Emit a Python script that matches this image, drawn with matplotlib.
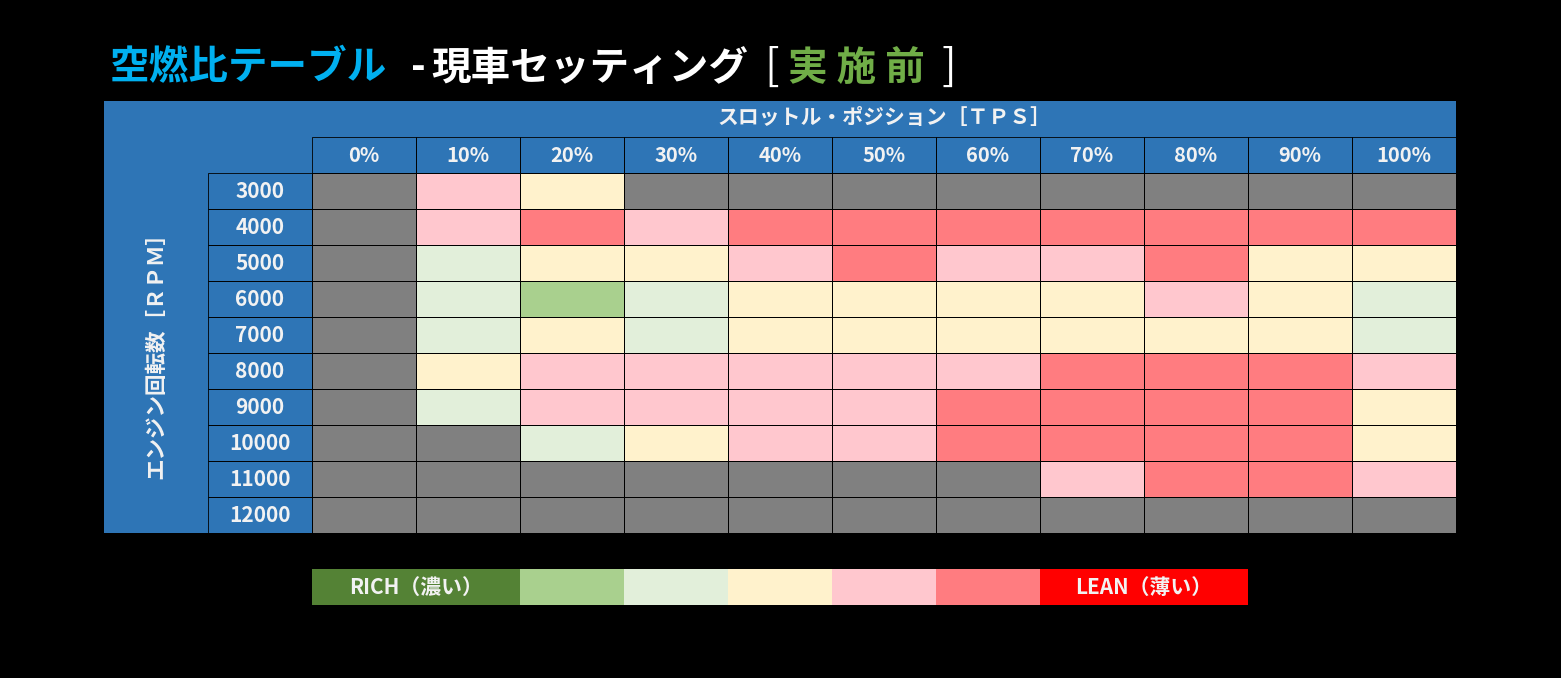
import matplotlib
matplotlib.use("Agg")
import matplotlib.pyplot as plt
from matplotlib.colors import ListedColormap, BoundaryNorm
from matplotlib.patches import Rectangle
import numpy as np

plt.rcParams['font.family'] = ['Noto Sans CJK JP', 'DejaVu Sans']

# ---- data ----
tps_labels = ["0%", "10%", "20%", "30%", "40%", "50%", "60%", "70%", "80%", "90%", "100%"]
rpm_labels = ["3000", "4000", "5000", "6000", "7000", "8000", "9000", "10000", "11000", "12000"]
# 0 = no data (gray), 1 = RICH (dark green) ... 7 = LEAN (red)
afr_level = [
    [0, 5, 4, 0, 0, 0, 0, 0, 0, 0, 0],  # 3000
    [0, 5, 6, 5, 6, 6, 6, 6, 6, 6, 6],  # 4000
    [0, 3, 4, 4, 5, 6, 5, 5, 6, 4, 4],  # 5000
    [0, 3, 2, 3, 4, 4, 4, 4, 5, 4, 3],  # 6000
    [0, 3, 4, 3, 4, 4, 4, 4, 4, 4, 3],  # 7000
    [0, 4, 5, 5, 5, 5, 5, 6, 6, 6, 5],  # 8000
    [0, 3, 5, 5, 5, 5, 6, 6, 6, 6, 4],  # 9000
    [0, 0, 3, 4, 5, 5, 6, 6, 6, 6, 4],  # 10000
    [0, 0, 0, 0, 0, 0, 0, 5, 6, 6, 5],  # 11000
    [0, 0, 0, 0, 0, 0, 0, 0, 0, 0, 0],  # 12000
]
level_colors = ["#808080", "#548235", "#A9D08E", "#E2EFDA", "#FFF2CC", "#FFC7CE", "#FF7C80", "#FF0000"]
legend_levels = [1, 2, 3, 4, 5, 6, 7]
legend_spans = [2, 1, 1, 1, 1, 1, 2]
legend_texts = ["RICH（濃い）", "", "", "", "", "", "LEAN（薄い）"]

title_parts = [("空燃比テーブル", "#00B0F0", "bold"), ("-", "#FFFFFF", "bold"),
               ("現車セッティング", "#FFFFFF", "bold"), ("[", "#FFFFFF", "normal"),
               ("実 施 前", "#70AD47", "bold"), ("]", "#FFFFFF", "normal")]
col_header = "スロットル・ポジション［ＴＰＳ］"
row_header = "エンジン回転数［ＲＰＭ］"

# ---- layout (pixels) ----
W, H = 1561, 678
cw, ch = 104, 36
x0, y0 = 312, 173          # data grid origin
panel_x, panel_y = 104, 101
txt = "#F2F2F2"

fig = plt.figure(figsize=(W / 100, H / 100), dpi=100, facecolor="black")
ax = fig.add_axes([0, 0, 1, 1])
ax.set_xlim(0, W)
ax.set_ylim(H, 0)
ax.axis("off")
ax.set_facecolor("black")

ncol, nrow = len(tps_labels), len(rpm_labels)
# blue panel
ax.add_patch(Rectangle((panel_x, panel_y), x0 + ncol * cw - panel_x, y0 + nrow * ch - panel_y,
                       facecolor="#2E75B6", edgecolor="none", zorder=1))

# heat cells
cmap = ListedColormap(level_colors)
norm = BoundaryNorm(np.arange(-0.5, len(level_colors) + 0.5), cmap.N)
xe = x0 + np.arange(ncol + 1) * cw
ye = y0 + np.arange(nrow + 1) * ch
ax.pcolormesh(xe, ye, np.array(afr_level), cmap=cmap, norm=norm,
              edgecolors="black", linewidth=0.6, zorder=2)

# TPS header cells
for i, lab in enumerate(tps_labels):
    ax.add_patch(Rectangle((x0 + i * cw, y0 - ch), cw, ch, facecolor="none",
                           edgecolor="black", linewidth=0.6, zorder=3))
    ax.text(x0 + i * cw + cw / 2, y0 - ch / 2, lab, color=txt, fontsize=14.5,
            fontweight="bold", ha="center", va="center", zorder=4)
# RPM label cells
for j, lab in enumerate(rpm_labels):
    ax.add_patch(Rectangle((x0 - cw, y0 + j * ch), cw, ch, facecolor="none",
                           edgecolor="black", linewidth=0.6, zorder=3))
    ax.text(x0 - cw / 2, y0 + j * ch + ch / 2 + 1, lab, color=txt, fontsize=15,
            fontweight="bold", ha="center", va="center", zorder=4)

# axis headers
ax.text(x0 + ncol * cw / 2, panel_y + 17, col_header, color=txt, fontsize=15,
        fontweight="bold", ha="center", va="center", zorder=4)
ax.text(156, 350, row_header, color=txt, fontsize=15.5, fontweight="bold",
        ha="center", va="center", rotation=90, zorder=4)

# title
title_x = [110, 411, 431, 764, 788, 942]
for (s, c, wt), tx in zip(title_parts, title_x):
    ax.text(tx, 68, s, color=c, fontsize=28.5 if wt == "bold" else 31, fontweight=wt,
            ha="left", va="center", zorder=4)

# legend
lefts = x0 + np.concatenate([[0], np.cumsum(legend_spans)[:-1]]) * cw
widths = np.array(legend_spans) * cw
ax.barh([587] * len(legend_levels), widths, left=lefts, height=36,
        color=[level_colors[k] for k in legend_levels], edgecolor="none", zorder=2)
for l, w, t in zip(lefts, widths, legend_texts):
    if t:
        ax.text(l + w / 2, 587, t, color=txt, fontsize=15, fontweight="bold",
                ha="center", va="center", zorder=4)

fig.savefig("out.png", dpi=100, facecolor="black")
